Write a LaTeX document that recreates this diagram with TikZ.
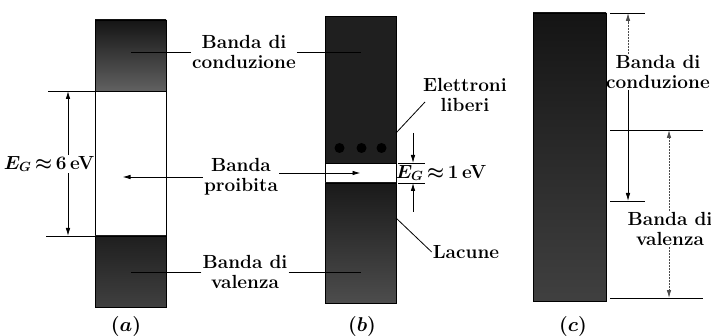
\RequirePackage{fix-cm}
\documentclass[tikz,border=0pt]{standalone}
\usepackage{amsmath}
\usetikzlibrary{arrows.meta,positioning,calc}

\begin{document}
\begin{tikzpicture}[x=1pt,y=-1pt,
  >={Latex[length=8pt,width=4.5pt]},
  bandbox/.style={draw,fill=black!88,minimum width=71pt,inner sep=0pt,outer sep=0pt},
  gapbox/.style={draw,fill=white,minimum width=71pt,inner sep=0pt,outer sep=0pt},
  bandlbl/.style={font=\fontsize{19}{20}\selectfont\bfseries,align=center,inner sep=1pt},
  gaplbl/.style={bandlbl,font=\fontsize{19}{20}\selectfont\bfseries\boldmath},
  caplbl/.style={font=\fontsize{20}{22}\selectfont\boldmath},
  bandarr/.style={->,line width=0.8pt},
  bandline/.style={line width=0.8pt},
  banddot/.style={bandarr,black!70,dash pattern=on 2pt off 1pt}
]
  \useasboundingbox (0,0) rectangle (711,336);
  % (a) insulator
  \node[bandbox,minimum height=71pt,top color=black!92,bottom color=black!62] (condA) at (130.5,55.5) {};
  \node[gapbox,minimum height=145pt] (gapA) at (130.5,163.5) {};
  \node[bandbox,minimum height=71pt,top color=black!88,bottom color=black!75] (valA) at (130.5,271.5) {};
  % (b) semiconductor
  \node[bandbox,minimum height=147pt] (condB) at (360.5,89.5) {};
  \node[gapbox,minimum height=20pt] (gapB) at (360.5,173) {};
  \node[bandbox,minimum height=120pt,top color=black!90,bottom color=black!70] (valB) at (360.5,243) {};
  \foreach \dx in {-21,1,21}
    \fill ([xshift=\dx pt,yshift=15pt]condB.south) circle (5pt);
  % (c) conductor
  \node[bandbox,minimum width=73pt,minimum height=288pt,top color=black!92,bottom color=black!75] (bandC) at (569.5,157) {};

  % Labels between (a) and (b)
  \node[bandlbl] (lcondab) at (244,52) {Banda di\\conduzione};
  \node[bandlbl] (lproib) at (241,177) {Banda\\proibita};
  \node[bandlbl] (lvalab) at (245,272) {Banda di\\valenza};
  \draw[bandline] (lcondab.west) -- (lcondab.west -| condA.center);
  \draw[bandline] (lcondab.east) -- (lcondab.east -| condB.center);
  \draw[bandarr] (lproib.west) -- ([xshift=-8pt]lproib.west -| gapA.center);
  \draw[bandarr] (lproib.east |- gapB.center) -- (gapB.center);
  \draw[bandline] (lvalab.west) -- (lvalab.west -| valA.center);
  \draw[bandline] (lvalab.east) -- (lvalab.east -| valB.center);

  % Gap width of (a)
  \draw[bandline] (gapA.north west) -- ++(-47,0);
  \draw[bandline] (gapA.south west) -- ++(-49,0);
  \draw[bandline,<->] ([xshift=-27pt]gapA.north west) -- ([xshift=-27pt]gapA.south west);
  \node[gaplbl,fill=white] (legA) at (49,164) {$E_G\,{\approx}\,6\,$eV};

  % Gap width of (b)
  \draw[bandline] ([xshift=2pt]gapB.north east) -- ++(27,0);
  \draw[bandline] ([xshift=2pt]gapB.south east) -- ++(27,0);
  \draw[bandarr] ([xshift=17pt,yshift=30pt]gapB.north east) -- ([xshift=17pt]gapB.north east);
  \draw[bandarr] ([xshift=17pt,yshift=-29pt]gapB.south east) -- ([xshift=17pt]gapB.south east);
  \node[gaplbl] (legB) at (441,173) {$E_G\,{\approx}\,1\,$eV};
  \node[bandlbl] (lelec) at (465,95) {Elettroni\\liberi};
  \node[bandlbl] (llac) at (466,252) {Lacune};
  \draw[bandline] ([yshift=30pt]condB.south east) -- ([xshift=3pt,yshift=-7pt]lelec.west);
  \draw[bandline] ([yshift=-35pt]valB.north east) -- (llac.west);

  % Overlapping bands of (c)
  \coordinate (cc1) at (628,13);
  \coordinate (cc2) at (628,201);
  \coordinate (cv1) at (669,130);
  \coordinate (cv2) at (669,298);
  \draw[bandline] ([xshift=4pt]bandC.north east) -- ++(35,0);
  \draw[bandline] ([xshift=4pt]bandC.north east |- cc2) -- ++(35,0);
  \draw[bandline] ([xshift=4pt]bandC.north east |- cv1) -- ++(93,0);
  \draw[bandline] ([xshift=4pt]bandC.north east |- cv2) -- ++(93,0);
  \node[bandlbl] (lcondc) at (658,72) {Banda di\\conduzione};
  \node[bandlbl] (lvalc) at (670,229) {Banda di\\valenza};
  \draw[banddot] (lcondc.north -| cc1) -- (cc1);
  \draw[bandarr] (lcondc.south -| cc1) -- (cc2);
  \draw[banddot] (lvalc.north -| cv1) -- (cv1);
  \draw[banddot] (lvalc.south -| cv1) -- (cv2);

  % Panel captions
  \node[caplbl] (capA) at (126,326) {$(a)$};
  \node[caplbl] (capB) at (362,326) {$(b)$};
  \node[caplbl] (capC) at (573,326) {$(c)$};
\end{tikzpicture}
\end{document}
